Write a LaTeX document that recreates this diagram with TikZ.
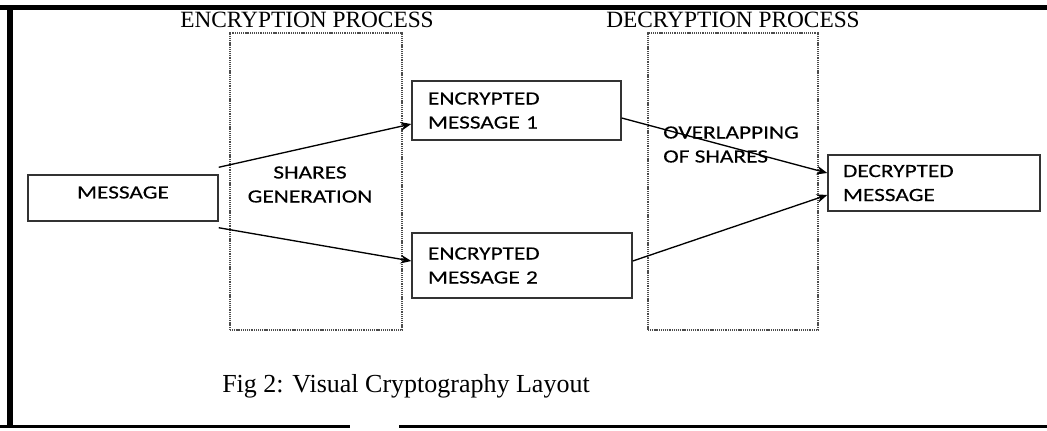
\documentclass[tikz,border=0pt]{standalone}
\usepackage{fontspec}
\setmainfont{Liberation Serif}
\newfontfamily\boxfont[FakeStretch=1.25, FakeBold=0.3]{Carlito}
\usetikzlibrary{positioning, calc, arrows.meta}

\begin{document}
\begin{tikzpicture}[
		x=0.75pt, y=-0.75pt,
		block/.style={draw=black!80, line width=1.1pt, inner xsep=12pt, inner ysep=0pt, align=left, font=\boxfont\fontsize{14}{18}\selectfont},
		stage/.style={draw=black!70, line width=0.9pt, dash pattern=on 0.8pt off 0.6pt},
		note/.style={inner sep=0pt, font=\boxfont\fontsize{14}{18}\selectfont},
		title/.style={inner sep=0pt, font=\fontsize{17.5}{20}\selectfont},
		arrow/.style={-{Stealth[length=8pt, width=6.5pt]}, line width=1pt}
		]
		\useasboundingbox (0,0) rectangle (1047,430);
		
		% page frame
		\draw[line width=3.75pt] (0,7.5) -- (1047,7.5);
		\draw[line width=4.5pt] (10,5) -- (10,428);
		\draw[line width=2.25pt] (0,426.5) -- (350,426.5) (399,426.5) -- (1047,426.5);
		
		% the two stages
		\node[stage, minimum width=129pt, minimum height=222.75pt] (encstage) at (316,181.5) {};
		\node[stage, minimum width=127.5pt, minimum height=222.75pt] (decstage) at (733,181.5) {};
		\node[title] (enctitle) at (307,20) {ENCRYPTION PROCESS};
		\node[title] (dectitle) at (733,20) {DECRYPTION PROCESS};
		\node[note, align=center] (gen) at (310,184.5) {SHARES\\GENERATION};
		\node[note, align=left, anchor=west] (overlap) at (663,144.5) {OVERLAPPING\\OF SHARES};
		
		% messages
		\node[block, align=center, text width=118.5pt, minimum height=34.5pt, text height=8.5pt, text depth=7.8pt] (msg) at (123,198) {MESSAGE};
		\node[block, text width=132.75pt, minimum height=44.25pt] (enc1) at (516.5,110.5) {ENCRYPTED\\MESSAGE 1};
		\node[block, text width=141pt, minimum height=48.75pt] (enc2) at (522,265.5) {ENCRYPTED\\MESSAGE 2};
		\node[block, inner xsep=11.25pt, text width=136.5pt, minimum height=42pt] (dec) at (934,183) {DECRYPTED\\MESSAGE};
		
		% shares out and back in
		\coordinate (m1) at ($(msg.north east)+(0,-7)$);
		\coordinate (m2) at ($(msg.south east)+(0,6)$);
		\draw[arrow] (m1) -- ($(enc1.west)+(0,13.5)$);
		\draw[arrow] (m2) -- ($(enc2.west)+(0,-4.5)$);
		\draw[arrow] ($(enc1.east)+(0,7.5)$) -- ($(dec.west)+(0,-10)$);
		\draw[arrow] ($(enc2.east)+(0,-4.5)$) -- ($(dec.west)+(0,12)$);
		
		\node[title, font=\fontsize{19.5}{22}\selectfont, anchor=base west] (caption) at (222,392) {Fig 2: Visual Cryptography Layout};
	\end{tikzpicture}
\end{document}
